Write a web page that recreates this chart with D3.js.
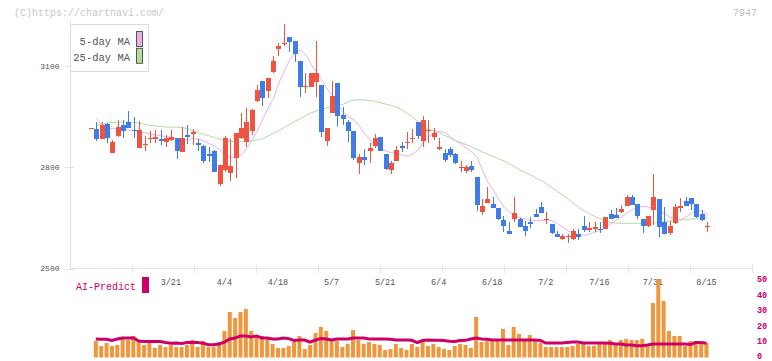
<!DOCTYPE html>
<html><head><meta charset="utf-8">
<script src="https://cdn.jsdelivr.net/npm/d3@7"></script>
<style>body{margin:0;background:#fff}svg{display:block}</style>
</head><body>
<svg id="c" width="772" height="361"></svg>
<script>
const dates = ["2/27","2/28",
"3/3","3/4","3/5","3/6","3/7","3/10","3/11","3/12","3/13","3/14","3/17","3/18","3/19","3/21","3/24","3/25","3/26","3/27","3/28","3/31",
"4/1","4/2","4/3","4/4","4/7","4/8","4/9","4/10","4/11","4/14","4/15","4/16","4/17","4/18","4/21","4/22","4/23","4/24","4/25","4/28","4/30",
"5/1","5/2","5/7","5/8","5/9","5/12","5/13","5/14","5/15","5/16","5/19","5/20","5/21","5/22","5/23","5/26","5/27","5/28","5/29","5/30",
"6/2","6/3","6/4","6/5","6/6","6/9","6/10","6/11","6/12","6/13","6/16","6/17","6/18","6/19","6/20","6/23","6/24","6/25","6/26","6/27","6/30",
"7/1","7/2","7/3","7/4","7/7","7/8","7/9","7/10","7/11","7/14","7/15","7/16","7/17","7/18","7/22","7/23","7/24","7/25","7/28","7/29","7/30","7/31",
"8/1","8/4","8/5","8/6","8/7","8/8","8/12","8/13","8/14","8/15"];

const open = [2915,2913,2884,2927,2843,2894,2925,2934,2911,2858,2865,2886,2884,2884,2876,2881,2887,2846,2896,2900,2873,2864,2839,2849,2751,2793,2784,2828,2888,2876,2908,2997,3057,3027,3083,3150,3164,3186,3174,3116,3039,3039,3054,3044,2879,2962,3051,2955,2934,2908,2814,2831,2849,2863,2890,2839,2793,2819,2863,2873,2883,2935,2879,2907,2891,2855,2842,2854,2839,2799,2789,2804,2771,2668,2695,2691,2679,2644,2611,2646,2647,2626,2638,2662,2682,2643,2633,2602,2589,2596,2589,2602,2626,2613,2618,2618,2616,2662,2659,2668,2686,2712,2692,2647,2626,2674,2706,2638,2606,2636,2680,2700,2709,2691,2662,2625];
const high = [2917,2934,2933,2930,2881,2940,2940,2967,2948,2936,2893,2908,2910,2910,2896,2910,2887,2918,2925,2913,2884,2867,2861,2852,2807,2894,2884,2903,2962,2975,2973,3044,3057,3065,3131,3169,3224,3186,3174,3116,3078,3080,3174,3044,2917,3056,3051,2978,2940,2908,2840,2854,2872,2899,2890,2839,2819,2863,2876,2905,2913,2935,2952,2940,2916,2887,2854,2861,2842,2819,2807,2819,2771,2705,2742,2712,2679,2655,2637,2712,2651,2641,2652,2677,2697,2668,2633,2611,2602,2602,2616,2616,2656,2638,2638,2638,2653,2674,2679,2688,2717,2718,2692,2647,2656,2780,2706,2682,2642,2691,2709,2712,2709,2691,2674,2638];
const low = [2914,2879,2884,2873,2842,2890,2888,2915,2888,2858,2849,2871,2871,2866,2861,2879,2825,2846,2870,2866,2849,2814,2817,2787,2746,2787,2760,2769,2884,2859,2896,2994,2982,3004,3078,3130,3159,3142,3113,3009,3019,3039,3009,2891,2863,2962,2923,2926,2876,2822,2780,2808,2813,2858,2847,2792,2781,2819,2845,2854,2873,2885,2861,2871,2881,2851,2817,2831,2810,2787,2784,2785,2671,2660,2695,2679,2643,2609,2602,2638,2624,2597,2621,2652,2665,2633,2603,2594,2584,2577,2585,2585,2608,2608,2608,2606,2616,2648,2651,2665,2686,2689,2648,2606,2622,2630,2594,2602,2600,2633,2668,2686,2674,2651,2642,2609];
const close = [2916,2884,2925,2888,2876,2919,2908,2916,2910,2910,2870,2887,2889,2879,2887,2890,2849,2887,2890,2906,2867,2820,2834,2787,2807,2888,2804,2903,2916,2934,2970,3029,3004,3065,3115,3159,3169,3172,3135,3039,3040,3080,3080,2905,2917,3011,2953,2944,2908,2828,2831,2823,2857,2887,2847,2795,2813,2851,2857,2876,2887,2894,2940,2910,2902,2860,2822,2836,2814,2801,2801,2792,2689,2685,2705,2680,2648,2627,2603,2665,2624,2612,2633,2652,2665,2647,2606,2594,2597,2597,2611,2594,2614,2620,2623,2617,2653,2648,2651,2676,2712,2689,2657,2627,2656,2712,2624,2602,2626,2682,2685,2686,2691,2652,2644,2626];

const volume = [null,10.6,7.4,9.3,7.4,8.0,13.1,11.2,13.8,11.2,8.0,9.3,6.1,8.0,6.7,8.0,6.7,6.7,8.0,11.2,6.7,10.6,6.7,6.7,9.9,17.0,29.2,25.3,29.2,31.1,17.0,14.4,13.8,11.9,8.7,6.1,6.1,7.4,9.9,13.8,5.4,8.0,15.7,19.6,17.0,10.6,10.6,6.7,8.7,17.6,11.2,8.7,9.9,8.7,8.0,4.8,5.4,8.7,6.1,4.8,8.7,6.7,10.3,7.4,8.7,6.7,5.4,4.8,7.4,8.7,8.0,6.1,26.0,9.9,10.6,10.6,10.6,18.3,8.0,19.6,15.1,10.6,14.4,10.6,9.3,6.7,6.7,6.7,6.7,6.7,7.4,8.7,8.7,7.4,7.4,9.3,9.3,11.2,9.3,11.2,11.9,11.2,11.2,11.9,7.4,34.9,50.3,36.2,17.0,13.8,13.8,7.4,10.6,10.6,8.7,9.3];
const aiPredict = [null,11.9,11.7,11.7,10.9,11.9,12.5,12.5,12.5,10.6,10.2,10.2,10.2,10.2,9.6,9.2,9.3,9.0,9.6,9.6,9.6,9.2,8.2,8.2,8.7,9.9,11.9,12.5,13.8,13.8,13.1,13.8,12.5,12.5,11.9,11.9,12.5,12.1,10.9,11.2,11.2,9.9,11.2,12.1,11.9,11.2,11.9,11.9,11.9,12.5,12.5,12.5,11.9,11.9,11.9,11.9,11.7,11.2,11.2,11.2,11.0,9.6,10.9,11.2,11.0,11.0,10.9,10.4,10.2,10.9,11.0,11.9,12.5,11.9,11.7,11.2,11.2,11.2,11.2,11.2,11.2,11.2,11.2,11.2,10.9,9.3,9.3,9.3,9.3,9.6,9.9,9.9,9.3,9.3,9.3,9.3,9.3,9.2,8.7,8.7,8.0,8.0,7.6,7.6,8.0,8.7,8.7,8.7,8.7,8.7,8.7,8.7,8.3,9.6,9.6,9.2];
const ma5 = [null,2943,2922,2916,2915,2913,2912,2910,2909,2906,2902,2899,2896,2893,2891,2888,2885,2882,2882,2884,2884,2878,2870,2863,2851,2836,2829,2829,2836,2857,2881,2910,2943,2976,3005,3050,3085,3118,3139,3147,3133,3106,3082,3059,3032,3011,2987,2964,2949,2940,2922,2899,2881,2866,2854,2848,2843,2841,2836,2833,2839,2851,2875,2890,2903,2906,2903,2890,2878,2869,2856,2845,2830,2792,2756,2733,2706,2682,2668,2657,2651,2647,2644,2642,2642,2644,2642,2633,2623,2611,2604,2601,2599,2602,2608,2614,2623,2633,2644,2654,2665,2675,2682,2684,2682,2679,2673,2663,2652,2647,2646,2653,2663,2671,2671,2659];
const ma25 = [null,2924,2928,2931,2933,2933,2934,2934,2933,2930,2927,2924,2922,2921,2919,2919,2919,2918,2913,2907,2904,2897,2893,2888,2883,2879,2877,2876,2876,2876,2878,2881,2885,2893,2900,2909,2918,2927,2936,2944,2953,2961,2967,2971,2977,2980,2982,2987,2995,2999,3000,2999,2998,2995,2991,2987,2983,2977,2970,2959,2947,2934,2921,2912,2907,2902,2894,2887,2878,2873,2867,2860,2853,2845,2839,2832,2825,2819,2810,2801,2792,2785,2777,2768,2761,2750,2739,2728,2718,2705,2693,2681,2671,2662,2654,2648,2641,2636,2635,2634,2634,2634,2634,2634,2634,2635,2636,2638,2641,2642,2644,2645,2647,2648,2650,2651];

const tickLabels = ["3/21","4/4","4/18","5/7","5/21","6/4","6/18","7/2","7/16","7/31","8/15"];
const priceTicks = [2500,2800,3100];
const volTicks = [0,10,20,30,40,50];

const C = {red:"#ef5440", blue:"#3f7ce8", ma5:"#e8b2e8", ma25:"#b2dca2", vol:"#f0963c", ai:"#cc0066", axis:"#e2e2e2", text:"#555"};
const mono = "'Liberation Mono','DejaVu Sans Mono',monospace";

const svg = d3.select("#c");
const x = d3.scaleBand().domain(dates).range([88.82, 710.18]).padding(0);
const cx = d => x(d) + x.bandwidth()/2;
const y = d3.scaleLinear().domain([2500,3100]).range([268.6,66]);
const yv = d3.scaleLinear().domain([0,50]).range([357.5,279.5]);
const grid = d3.scaleLinear().domain([0,11]).range([70,752]);

// copyright + code
svg.append("text").attr("x",14).attr("y",16).attr("font-family",mono).attr("font-size",10).attr("fill","#c8c8c8").text("(C)https://chartnavi.com/");
svg.append("text").attr("x",757).attr("y",16).attr("text-anchor","end").attr("font-family",mono).attr("font-size",10).attr("fill","#bdbdbd").text("7947");

// axes
svg.append("line").attr("x1",70.5).attr("x2",70.5).attr("y1",20).attr("y2",268.5).attr("stroke",C.axis);
svg.append("line").attr("x1",70).attr("x2",752).attr("y1",268.5).attr("y2",268.5).attr("stroke",C.axis);
svg.selectAll(".gt").data(d3.range(1,12)).join("line")
  .attr("x1",d=>Math.round(grid(d))+0.5).attr("x2",d=>Math.round(grid(d))+0.5)
  .attr("y1",265).attr("y2",273).attr("stroke",C.axis);
svg.selectAll(".yt").data(priceTicks).join("line")
  .attr("x1",65).attr("x2",74).attr("y1",d=>Math.round(y(d))+0.5).attr("y2",d=>Math.round(y(d))+0.5).attr("stroke",C.axis);
svg.selectAll(".yl").data(priceTicks).join("text")
  .attr("x",59.5).attr("y",d=>y(d)).attr("dy","0.35em").attr("text-anchor","end")
  .attr("font-family",mono).attr("font-size",8).attr("fill",C.text).text(d=>d);
svg.selectAll(".xl").data(tickLabels).join("text")
  .attr("x",d=>cx(d)-1).attr("y",285).attr("text-anchor","middle")
  .attr("font-family",mono).attr("font-size",8.5).attr("fill",C.text).text(d=>d);

// volume bars
const vIdx = d3.range(dates.length).filter(i=>volume[i]!=null);
svg.selectAll(".vb").data(vIdx).join("rect")
  .attr("x",i=>cx(dates[i])-3).attr("width",4)
  .attr("y",i=>yv(volume[i])).attr("height",i=>yv(0)-yv(volume[i]))
  .attr("fill",C.vol);
const aIdx = d3.range(dates.length).filter(i=>aiPredict[i]!=null);
svg.append("path").datum(aIdx)
  .attr("d",d3.line().x(i=>cx(dates[i])-1).y(i=>yv(aiPredict[i])))
  .attr("fill","none").attr("stroke",C.ai).attr("stroke-width",3);
svg.selectAll(".vl").data(volTicks).join("text")
  .attr("x",757).attr("y",d=>Math.min(yv(d)+2.5,358.5))
  .attr("font-family",mono).attr("font-size",8.5).attr("font-weight","bold").attr("fill",C.ai).text(d=>d);
svg.append("text").attr("x",76).attr("y",289.5).attr("font-family",mono).attr("font-size",10).attr("fill",C.ai).text("AI-Predict");
svg.append("rect").attr("x",142).attr("y",277).attr("width",7).attr("height",16).attr("fill",C.ai);

// moving averages
const maLine = arr => d3.line().defined(i=>arr[i]!=null).x(i=>cx(dates[i])).y(i=>y(arr[i]));
const idx = d3.range(dates.length);
svg.append("path").datum(idx).attr("d",maLine(ma25)).attr("fill","none").attr("stroke",C.ma25).attr("stroke-width",1);
svg.append("path").datum(idx).attr("d",maLine(ma5)).attr("fill","none").attr("stroke",C.ma5).attr("stroke-width",1);

// candles
const g = svg.append("g").attr("shape-rendering","crispEdges");
const col = i => close[i] >= open[i] ? C.red : C.blue;
g.selectAll(".wk").data(idx).join("line")
  .attr("x1",i=>Math.floor(cx(dates[i]))+0.5).attr("x2",i=>Math.floor(cx(dates[i]))+0.5)
  .attr("y1",i=>y(high[i])).attr("y2",i=>y(low[i])).attr("stroke",col);
g.selectAll(".bd").data(idx).join("rect")
  .attr("x",i=>Math.floor(cx(dates[i]))-2).attr("width",5)
  .attr("y",i=>y(Math.max(open[i],close[i])))
  .attr("height",i=>Math.max(1,Math.abs(y(open[i])-y(close[i]))))
  .attr("fill",col);

// legend
const lg = svg.append("g");
lg.append("rect").attr("x",70.5).attr("y",24.5).attr("width",78).attr("height",47).attr("fill","#fff").attr("stroke","#dcdcdc");
const legendItems = [["5-day MA",C.ma5],["25-day MA",C.ma25]];
legendItems.forEach(([t,c],k)=>{
  lg.append("text").attr("x",130).attr("y",44.5+k*16.5).attr("text-anchor","end").attr("font-family",mono).attr("font-size",10.5).attr("fill",C.text).text(t);
  lg.append("rect").attr("x",136.5).attr("y",31.5+k*16.8).attr("width",6).attr("height",15).attr("fill",c).attr("stroke","#555");
});
</script>
</body></html>
